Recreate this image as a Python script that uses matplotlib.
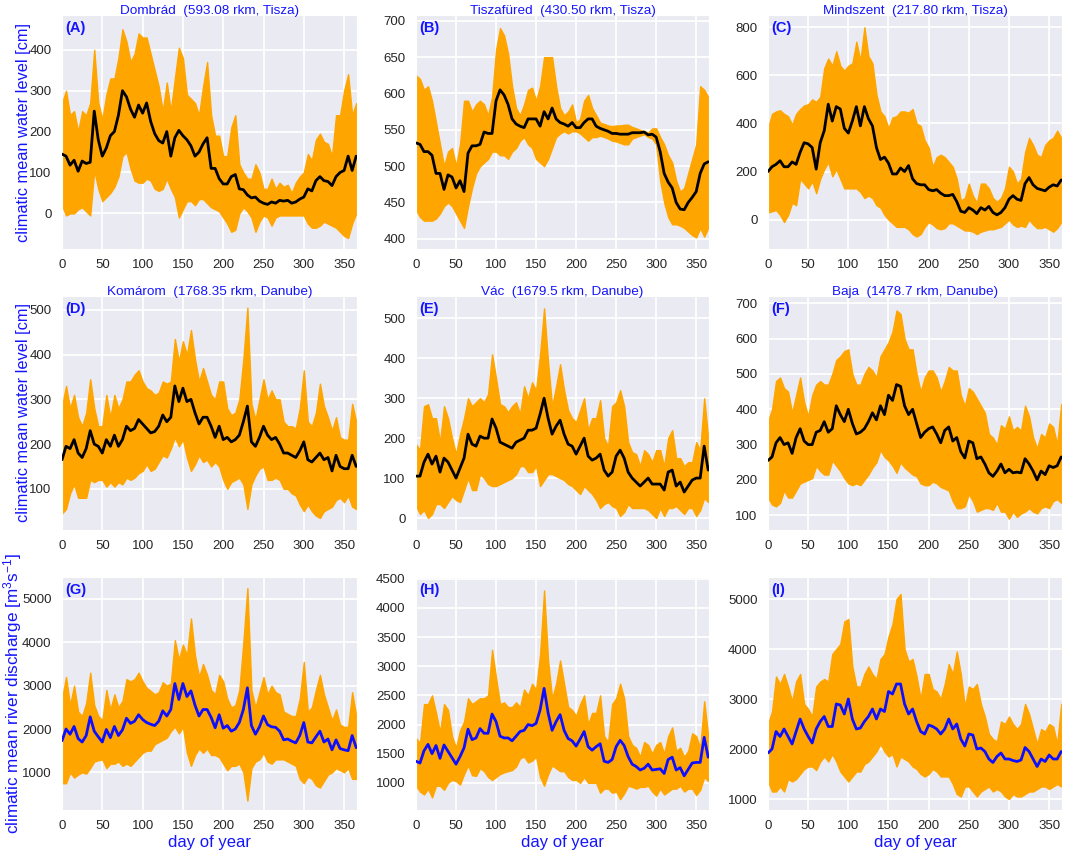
import numpy as np
import matplotlib
matplotlib.use("Agg")
import matplotlib.pyplot as plt
import seaborn as sns

sns.set_style("darkgrid")
plt.rcParams['font.family'] = ['Liberation Sans', 'DejaVu Sans']
plt.rcParams['mathtext.default'] = 'regular'

# climatic values read every 5th day of year
days = list(range(0, 370, 5))

mean_a = [145,140,118,130,103,128,122,125,250,180,140,160,190,200,240,300,285,255,235,265,245,270,225,195,178,172,200,140,185,203,190,180,165,140,150,170,185,110,110,85,72,72,90,95,60,58,45,38,40,30,25,22,28,25,32,30,32,25,28,35,40,60,55,80,90,80,78,68,90,100,105,140,105,140]
upper_a = [270,300,240,250,200,250,240,270,400,270,230,290,330,330,380,450,420,370,390,440,430,430,390,350,310,250,320,250,330,405,380,290,280,270,240,310,370,240,190,190,140,140,210,240,120,100,85,85,120,100,60,60,85,60,75,65,70,50,75,90,100,145,130,180,195,175,170,140,240,240,300,340,240,270]
lower_a = [20,-5,0,0,10,15,5,-5,105,60,30,40,50,65,90,140,150,110,80,75,75,85,80,60,55,60,85,60,40,-10,10,30,30,20,35,35,25,15,10,5,-10,-25,-45,-40,0,15,5,-10,-45,-20,-5,-10,-30,-10,-5,-5,-5,-5,-5,-5,-5,-25,-35,-35,-30,-20,-25,-30,-35,-45,-55,-60,-25,0]

mean_b = [532,530,520,520,515,490,490,468,488,485,470,480,465,518,528,528,530,547,545,545,590,605,598,585,565,558,555,553,565,565,565,555,575,565,580,565,560,558,555,560,553,553,560,565,565,555,552,550,548,545,545,544,544,544,546,546,546,547,543,544,540,520,490,478,470,450,441,440,450,457,465,490,503,506]
upper_b = [625,620,605,610,590,560,530,500,520,525,500,530,590,590,575,585,590,585,570,595,660,690,680,655,610,580,570,585,605,608,590,610,650,650,650,610,580,570,575,585,560,565,590,598,580,570,560,558,556,555,556,556,557,557,554,552,550,548,546,552,552,540,530,515,505,480,465,470,490,510,530,610,605,595]
lower_b = [440,430,425,425,425,428,435,445,450,445,435,425,415,445,470,490,500,505,510,520,520,515,515,510,520,525,535,540,530,525,510,505,500,510,525,540,545,548,545,548,548,545,540,535,540,540,542,540,538,535,534,532,530,530,538,540,542,544,540,538,530,480,450,430,420,420,418,415,410,405,402,415,403,415]

mean_c = [200,220,230,245,220,220,240,230,280,320,315,300,210,320,370,480,410,470,460,380,360,410,470,390,470,420,390,300,250,260,235,190,190,215,200,225,170,150,145,145,125,120,125,110,100,100,105,75,35,30,50,40,25,50,40,55,30,20,30,50,85,100,85,80,150,175,145,130,125,120,135,145,140,165]
upper_c = [380,440,450,455,440,430,395,440,460,475,480,500,490,510,630,670,640,700,640,620,640,650,740,660,800,680,650,520,450,430,380,425,430,450,450,445,460,400,390,330,300,220,260,270,260,240,220,170,80,90,150,100,70,150,150,130,90,75,90,130,220,200,150,170,280,340,310,270,260,310,330,340,370,340]
lower_c = [30,35,40,20,-10,20,70,60,170,150,130,160,110,170,210,240,180,210,170,130,130,130,130,115,90,100,90,60,50,20,0,-15,-30,-30,-30,-40,-60,-70,-60,-30,-10,-20,-35,-40,-35,-15,-15,-25,-35,-45,-45,-50,-60,-50,-45,-40,-40,-35,-30,-15,0,-20,-30,-25,-30,0,-20,-35,-35,-30,-40,-50,-35,-10]

mean_d = [165,195,190,210,180,170,190,230,200,195,180,210,195,220,195,210,240,230,235,255,245,235,225,228,240,265,250,260,330,295,325,295,300,270,245,260,260,240,215,240,210,215,205,210,220,250,285,205,195,215,240,220,210,215,200,180,180,175,170,185,205,165,160,170,180,165,170,140,175,150,145,145,175,150]
upper_d = [285,330,280,310,260,240,270,345,280,240,240,310,260,310,280,300,340,340,355,365,340,325,320,310,315,340,335,340,435,385,430,400,455,390,340,370,340,310,300,340,340,280,265,270,300,390,505,290,255,300,345,300,320,300,300,250,240,240,235,280,365,250,240,270,335,285,260,230,260,215,210,210,290,250]
lower_d = [45,55,90,110,80,80,80,120,115,120,120,105,115,105,115,110,125,120,125,135,140,155,140,145,160,175,170,190,215,195,210,170,140,155,175,160,165,150,160,150,120,100,115,120,125,110,55,110,130,145,150,120,120,125,120,100,100,90,85,65,50,65,50,40,35,50,55,60,75,80,70,85,60,55]

mean_e = [105,105,140,160,135,155,115,150,140,120,100,125,150,210,185,180,205,200,200,248,225,190,185,180,175,190,195,200,220,220,225,260,300,250,210,230,245,210,185,180,160,180,200,155,145,150,160,120,105,115,155,170,150,115,100,90,80,90,100,85,85,85,70,115,120,80,90,65,80,95,100,100,180,120]
upper_e = [185,170,280,285,250,250,190,280,250,200,160,210,250,300,280,290,300,290,310,410,350,285,280,265,280,290,260,330,300,340,320,410,525,390,280,330,385,320,270,250,240,270,300,220,250,250,295,200,180,280,290,320,280,190,165,160,130,170,160,140,170,170,130,200,220,150,150,130,140,140,190,170,300,200]
lower_e = [30,10,20,0,10,35,35,25,40,55,45,40,70,100,70,70,110,100,85,80,80,85,90,95,100,110,130,130,115,115,130,80,95,110,110,105,100,95,85,80,70,60,80,70,60,45,25,35,40,30,25,5,15,35,25,25,25,25,20,10,0,25,5,25,25,30,20,10,25,25,5,20,50,40]

mean_f = [255,265,305,320,300,305,275,320,345,310,300,300,335,340,365,335,345,410,385,365,400,360,330,335,345,365,390,370,410,385,440,425,470,465,410,385,400,360,320,335,345,350,330,305,340,350,310,320,280,262,310,305,260,265,245,220,210,225,245,220,230,220,222,220,260,245,225,200,225,215,240,235,240,265]
upper_f = [365,400,480,490,460,450,390,440,490,420,380,440,470,480,470,470,500,540,550,565,570,500,470,470,500,520,510,490,550,570,590,620,680,670,600,570,570,500,450,490,510,510,490,450,480,520,510,510,440,410,460,450,430,410,390,330,320,300,355,345,380,340,350,340,410,380,320,290,330,320,360,350,300,415]
lower_f = [150,130,125,135,170,150,150,170,190,195,200,205,240,225,215,215,255,240,225,205,190,185,190,185,200,215,235,250,285,265,255,240,220,250,235,225,215,210,190,185,185,195,190,180,175,170,140,120,120,125,160,140,110,115,120,120,115,135,110,110,90,110,95,105,110,120,110,105,120,125,120,140,145,135]

mean_g = [1730,2000,1880,2060,1780,1700,1850,2280,1950,1820,1700,1990,1800,2060,1850,1980,2250,2130,2180,2330,2220,2150,2110,2080,2180,2420,2300,2450,3050,2680,3050,2750,2880,2550,2300,2450,2450,2270,2030,2330,2020,2080,1950,2000,2150,2450,2950,2080,1880,2050,2300,2100,2050,2040,1950,1750,1770,1720,1680,1850,2150,1700,1680,1820,1950,1700,1770,1520,1750,1550,1520,1500,1850,1570]
upper_g = [2700,3200,2550,3000,2400,2300,2600,3300,2550,2300,2200,2900,2450,2800,2500,2650,3150,3100,3150,3300,3100,2950,2880,2800,2850,3080,3000,3050,4050,3600,3950,3700,4550,3700,3200,3500,3250,2900,2800,3250,3100,2700,2500,2550,2900,4000,5250,2900,2500,2850,3200,2800,3000,2850,2800,2400,2350,2300,2300,2700,3550,2400,2500,2900,3250,2800,2500,2200,2450,2100,2050,2050,2850,2300]
lower_g = [750,750,1000,880,950,1000,970,1100,1250,1280,1300,1100,1200,1200,1250,1150,1200,1150,1250,1350,1450,1500,1500,1650,1700,1750,1800,1950,2050,1900,2050,1450,1150,1400,1550,1450,1550,1400,1400,1350,1200,1050,1150,1150,1200,1000,350,1100,1250,1300,1450,1250,1200,1300,1300,1300,1250,1200,1150,850,750,900,850,700,650,800,950,1000,1100,1050,1000,1100,850,850]

mean_h = [1370,1340,1550,1660,1500,1640,1420,1650,1540,1430,1320,1450,1600,1920,1740,1770,1930,1850,1850,2180,2050,1800,1770,1770,1720,1800,1880,1900,2000,1980,2020,2250,2620,2200,1900,2050,2170,1900,1760,1720,1630,1750,1880,1620,1560,1620,1670,1370,1350,1400,1620,1730,1640,1450,1320,1280,1220,1250,1320,1220,1230,1240,1160,1400,1440,1220,1260,1120,1230,1340,1350,1350,1780,1440]
upper_h = [1770,1680,2350,2350,2500,2200,1870,2350,2250,1800,1600,1900,2050,2450,2350,2400,2450,2450,2500,3280,2800,2350,2380,2300,2300,2380,2300,2600,2500,2700,2600,3200,4300,3100,2450,2700,3100,2700,2300,2250,2150,2350,2500,2000,2200,2200,2500,1800,1700,2350,2450,2700,2450,1800,1650,1600,1450,1700,1650,1500,1650,1700,1500,1800,1950,1550,1600,1450,1550,1850,1800,1600,2400,1800]
lower_h = [950,850,800,900,750,950,950,880,1000,1050,1030,970,1150,1300,1130,1120,1250,1200,1100,1050,1100,1150,1180,1200,1220,1280,1420,1450,1350,1380,1450,1100,950,1150,1300,1250,1200,1200,1100,1050,1050,1000,1100,1000,1000,1000,830,900,900,830,850,720,820,950,930,900,930,930,950,850,780,900,800,850,900,900,950,850,900,900,790,880,1100,1030]

mean_i = [1920,2000,2350,2250,2400,2250,2100,2350,2600,2400,2250,2120,2400,2550,2650,2450,2450,2900,2880,2700,3000,2600,2400,2420,2550,2650,2800,2600,2800,2750,3150,3100,3300,3300,2900,2700,2800,2550,2350,2300,2480,2450,2400,2300,2400,2600,2400,2500,2200,2060,2300,2280,2000,2020,1950,1800,1730,1850,1920,1800,1800,1770,1750,1780,2030,1950,1800,1650,1800,1750,1880,1800,1800,1950]
upper_i = [2500,2750,3450,3300,3500,3250,2950,3350,3500,2900,2800,2650,3250,3350,3400,3350,3900,4000,4100,4550,4600,3650,3250,3250,3500,3650,3500,3400,3800,3900,4250,4500,5000,5100,4000,3750,3800,3450,3000,3500,3500,3200,3150,3000,3300,3700,3500,3950,3500,2850,3250,3200,3300,2900,2650,2300,2200,2150,2550,2500,2650,2500,2400,2500,2900,2700,2400,2100,2400,2350,2500,2450,2100,2900]
lower_i = [1350,1150,1150,1250,1150,1400,1350,1400,1500,1600,1650,1650,1580,1750,1850,1750,1900,1750,1550,1450,1350,1450,1550,1550,1700,1750,1850,1950,2100,1950,1850,1900,1650,1850,1800,1750,1650,1600,1500,1450,1500,1600,1550,1450,1450,1450,1300,1100,1050,1250,1250,1150,1050,1150,1200,1250,1150,1200,1150,1050,1000,1100,1050,1050,1100,1150,1150,1200,1250,1250,1200,1250,1300,1250]

titles = ["Dombrád  (593.08 rkm, Tisza)", "Tiszafüred  (430.50 rkm, Tisza)", "Mindszent  (217.80 rkm, Tisza)",
          "Komárom  (1768.35 rkm, Danube)", "Vác  (1679.5 rkm, Danube)", "Baja  (1478.7 rkm, Danube)",
          "", "", ""]
letters = ["(A)", "(B)", "(C)", "(D)", "(E)", "(F)", "(G)", "(H)", "(I)"]
means = [mean_a, mean_b, mean_c, mean_d, mean_e, mean_f, mean_g, mean_h, mean_i]
uppers = [upper_a, upper_b, upper_c, upper_d, upper_e, upper_f, upper_g, upper_h, upper_i]
lowers = [lower_a, lower_b, lower_c, lower_d, lower_e, lower_f, lower_g, lower_h, lower_i]
ylims = [(-87, 485), (386, 708), (-122, 851), (8, 531), (-30, 556), (58, 721), (132, 5507), (534, 4530), (780, 5440)]
yticks = [range(0, 401, 100), range(400, 701, 50), range(0, 801, 200),
          range(100, 501, 100), range(0, 501, 100), range(100, 701, 100),
          range(1000, 5001, 1000), range(1000, 4501, 500), range(1000, 5001, 1000)]

W, H = 1065, 852
col_x = [(62, 357), (416, 709), (768, 1062)]
row_y = [(15, 249), (296, 530), (577, 810)]
TEXT_BLUE = "#1414ff"

fig = plt.figure(figsize=(W / 100, H / 100), dpi=100)

for i in range(9):
    row, col = i // 3, i % 3
    x0, x1 = col_x[col]
    y0, y1 = row_y[row]
    ax = fig.add_axes([x0 / W, 1 - y1 / H, (x1 - x0) / W, (y1 - y0) / H])
    line_color = "black" if row < 2 else "#0f0fff"
    ax.fill_between(days, lowers[i], uppers[i], color="orange", linewidth=1.0, zorder=2)
    ax.plot(days, means[i], color=line_color, linewidth=2, zorder=3)
    ax.set_xlim(0, 366)
    ax.set_ylim(*ylims[i])
    ax.set_xticks(range(0, 351, 50))
    ax.set_yticks(list(yticks[i]))
    ax.grid(color="white", linewidth=1.3)
    ax.tick_params(axis="x", labelsize=9.5, pad=3.5)
    ax.tick_params(axis="y", labelsize=9.5, pad=4)
    if titles[i]:
        ax.set_title(titles[i], fontsize=9.7, color=TEXT_BLUE, pad=1)
    ax.text(0.012, 0.945, letters[i], transform=ax.transAxes, color=TEXT_BLUE,
            fontsize=10.5, fontweight="bold", ha="left", va="center", zorder=5)
    if col == 0:
        if row < 2:
            ax.set_ylabel("climatic mean water level [cm]", fontsize=11.8, color=TEXT_BLUE)
            ax.yaxis.set_label_coords(-0.106, 0.5)
        else:
            ax.set_ylabel("climatic mean river discharge [m$^3$s$^{-1}$]", fontsize=12.3, color=TEXT_BLUE)
            ax.yaxis.set_label_coords(-0.128, 0.5)
    if row == 2:
        ax.set_xlabel("day of year", fontsize=12, color=TEXT_BLUE, labelpad=2)

fig.savefig("out.png", dpi=100)
